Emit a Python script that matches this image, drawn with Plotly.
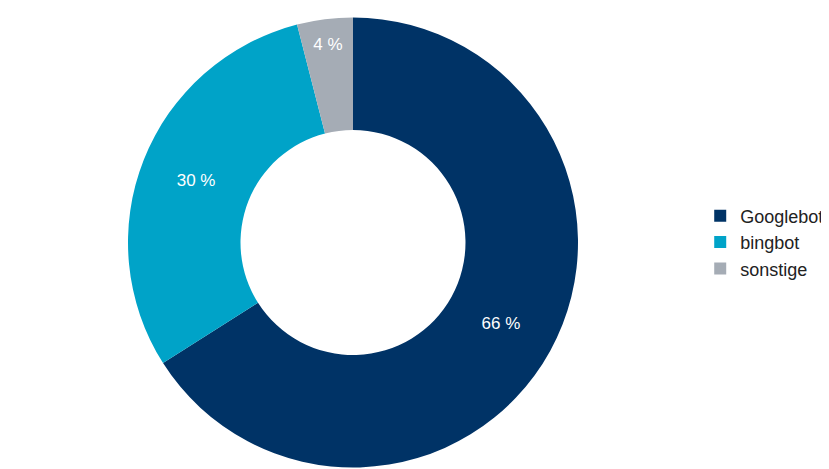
import plotly.graph_objects as go

labels = ["Googlebot", "bingbot", "sonstige"]
values = [66, 30, 4]
colors = ["#003366", "#00a3c8", "#a5acb5"]

fig = go.Figure(go.Pie(
    labels=labels, values=values, hole=0.5, sort=False, direction="clockwise", rotation=0,
    marker=dict(colors=colors, line=dict(color="white", width=0)),
    text=[f"{v} %" for v in values], textinfo="text", textposition="inside",
    insidetextorientation="horizontal",
    textfont=dict(color="white", size=17, family="Liberation Sans, Arial"),
    domain=dict(x=[120/829, 570/829], y=[0.015, 0.985]),
))
fig.update_layout(
    width=829, height=469, margin=dict(l=0, r=0, t=0, b=0),
    paper_bgcolor="white", plot_bgcolor="white",
    font=dict(family="Liberation Sans, Arial", size=17, color="#222"),
    legend=dict(x=0.835, y=0.5, xanchor="left", yanchor="middle", itemwidth=30,
                font=dict(size=18)),
)
fig.write_html("out.html")
